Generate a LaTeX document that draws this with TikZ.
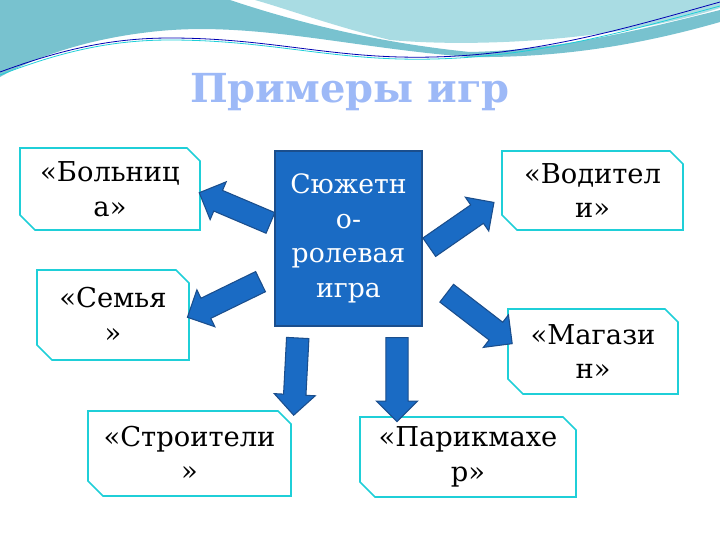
\documentclass[tikz,border=0pt]{standalone}
\usepackage{fontspec}
\setmainfont{DejaVu Serif}
\usetikzlibrary{shapes.arrows}

\definecolor{wavedark}{HTML}{78C2CF}
\definecolor{wavelight}{HTML}{A9DCE3}
\definecolor{titleblue}{HTML}{9DB9F7}
\definecolor{coreblue}{HTML}{1A6BC4}
\definecolor{coreline}{HTML}{1B4E8C}
\definecolor{boxcyan}{HTML}{1FCFD8}

\tikzset{
  boxline/.style={draw=boxcyan,line width=1.3pt,fill=white},
  boxtext/.style={align=center,font=\fontsize{20.5}{26}\selectfont},
  blockarrow/.style={single arrow,draw=coreline,fill=coreblue,line width=0.8pt,
    inner sep=0pt,inner ysep=8pt,single arrow head extend=7pt,
    single arrow head indent=0pt}
}

% snipped box: name, x1, y1, x2, y2, text
\newcommand{\snipbox}[6]{
  \draw[boxline] (#2,#3) -- (#4-13,#3) -- (#4,#3+13) -- (#4,#5)
    -- (#2+15,#5) -- (#2,#5-15) -- cycle;
  \node[boxtext] (#1) at ({(#2+#4)/2},{(#3+#5)/2}) {#6};
}

\begin{document}
\begin{tikzpicture}[x=0.75pt,y=-0.75pt]
  \useasboundingbox (0,0) rectangle (720,540);

  %% Waves at the top
  \fill[wavedark] (0,0) -- (230,0) .. controls (320,30) and (400,45) .. (470,52)
    .. controls (560,50) and (640,30) .. (720,10) -- (720,22)
    .. controls (640,45) and (560,58) .. (470,57)
    .. controls (350,48) and (250,20) .. (150,32)
    .. controls (80,40) and (30,60) .. (0,77) -- cycle;
  \fill[wavelight] (255,0) -- (720,0) -- (720,8) .. controls (620,40) and (480,48) .. (390,40)
    .. controls (330,25) and (290,10) .. (255,0) -- cycle;
  \draw[blue!70!black,line width=0.6pt] (0,72) .. controls (60,50) and (110,38) .. (170,38)
    .. controls (260,38) and (320,55) .. (400,57) .. controls (520,60) and (620,30) .. (720,2);
  \draw[boxcyan,line width=0.6pt] (0,75) .. controls (60,52) and (110,40) .. (170,40)
    .. controls (260,40) and (320,57) .. (400,59) .. controls (520,62) and (620,33) .. (720,6);

  %% Title
  \node[text=titleblue,font=\fontsize{30}{34}\selectfont\bfseries] (title) at (350,92) {Примеры игр};

  %% Central box
  \node[draw=coreline,fill=coreblue,line width=1pt,minimum width=110.25pt,minimum height=131.25pt,
    text=white,align=center,font=\fontsize{20}{26}\selectfont] (core) at (348.5,238.5)
    {Сюжетн\\о-\\ролевая\\игра };

  %% Game boxes
  \snipbox{hospital}{20}{148}{200}{230}{«Больниц\\а»}
  \snipbox{family}{37}{270}{189}{360}{«Семья\\»}
  \snipbox{builders}{88}{411}{291}{496}{«Строители\\»}
  \snipbox{barber}{360}{417}{576}{497}{«Парикмахе\\р»}
  \snipbox{shop}{508}{309}{678}{394}{«Магази\\н»}
  \snipbox{drivers}{502}{151}{683}{230}{«Водител\\и»}

  %% Block arrows
  \foreach \x/\y/\a/\l in {240/210/157/58, 229/297/206/61, 296/371/267/58,
                           397/374/270/63, 475/315/-37.6/62, 457/228/34.7/59}
    \node[blockarrow,rotate=\a,minimum height=\l pt] (arr\a) at (\x,\y) {};
\end{tikzpicture}
\end{document}
